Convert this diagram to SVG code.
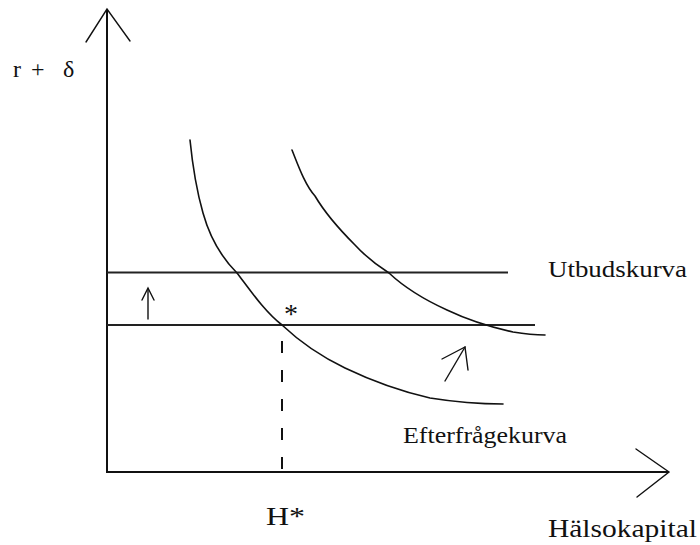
<svg xmlns="http://www.w3.org/2000/svg" width="700" height="545" viewBox="0 0 700 545">
<style>
.ax{stroke:#111;stroke-width:2;fill:none}
.hl{stroke:#222;stroke-width:2;fill:none}
.cv{stroke:#111;stroke-width:1.6;fill:none;stroke-linejoin:round;stroke-linecap:round}
.ar{stroke:#111;stroke-width:1.4;fill:none;stroke-linecap:round}
.t{font-family:"Liberation Serif","Times New Roman",serif;fill:#111}
</style>
<rect width="700" height="545" fill="#fff"/>
<g id="connectors">
<g id="y-axis"><path class="ax" d="M107,472 L107,10"/><path class="ar" d="M86,42 L107,9 L130,41"/></g>
<g id="x-axis"><path class="ax" d="M106,472 L668,472"/><path class="ar" d="M636,449 L669,472 L637,497"/></g>
<path id="supply-high" class="hl" d="M107,272.5 L508,272.5"/>
<path id="supply-low" class="hl" d="M107,325 L535,325"/>
<path id="h-star-dash" class="ax" stroke-width="1.6" stroke-dasharray="12,17" d="M282,341 L282,472"/>
<g id="shift-up-arrow"><path class="ar" d="M148,319 L148,289"/><path class="ar" d="M142,300 L148,288 L154,300"/></g>
<g id="shift-right-arrow"><path class="ar" d="M445,381 L465,347"/><path class="ar" d="M442,359 L465,347 L468,370"/></g>
</g>
<g id="demand-1"><path class="cv" d="M190,140 C192,160 195,185 203,213 C210,238 222,258 237,273 C250,290 265,312 282,325 C300,342 320,356 345,368 C370,380 395,390 430,398 C455,402 480,404 503,404"/></g>
<g id="demand-2"><path class="cv" d="M292,150 C298,165 305,185 315,196 C325,213 340,230 355,245 C367,258 378,266 389,273 C405,288 425,300 447,310 C468,320 490,327 513,332 C525,334 535,335 545,335"/></g>
<g id="labels">
<text id="y-label" class="t" font-size="24" y="77"><tspan x="13">r</tspan><tspan x="31">+</tspan><tspan x="63">δ</tspan></text>
<text id="eq-star" class="t" x="284" y="323" font-size="28">*</text>
<text id="utbud" class="t" x="548" y="277" font-size="23" textLength="139" lengthAdjust="spacingAndGlyphs">Utbudskurva</text>
<text id="efterfraga" class="t" x="403" y="443" font-size="23" textLength="164" lengthAdjust="spacingAndGlyphs">Efterfrågekurva</text>
<text id="h-star" class="t" x="266" y="525" font-size="26" textLength="39" lengthAdjust="spacingAndGlyphs">H*</text>
<text id="x-label" class="t" x="548" y="537" font-size="26" textLength="149" lengthAdjust="spacingAndGlyphs">Hälsokapital</text>
</g>
</svg>
